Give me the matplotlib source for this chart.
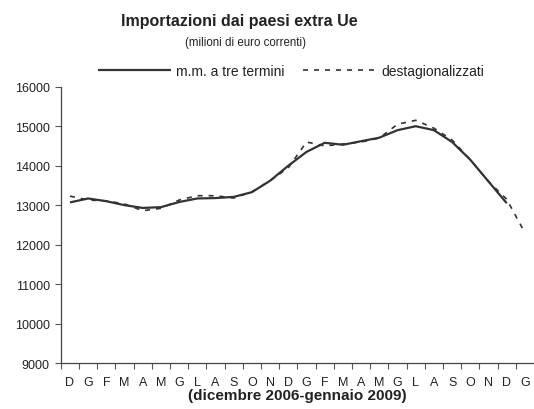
import matplotlib
matplotlib.use("Agg")
import matplotlib.pyplot as plt
import numpy as np

months = ["D", "G", "F", "M", "A", "M", "G", "L", "A", "S", "O", "N",
          "D", "G", "F", "M", "A", "M", "G", "L", "A", "S", "O", "N",
          "D", "G"]

# media mobile a tre termini (ends at Dec 2008)
mm3 = [13070, 13170, 13100, 13000, 12930, 12950, 13080, 13170, 13180, 13210,
       13330, 13620, 14000, 14350, 14580, 14530, 14620, 14710, 14900, 15000,
       14900, 14600, 14150, 13600, 13050]

# destagionalizzati
dest = [13230, 13130, 13110, 13030, 12860, 12920, 13130, 13240, 13240, 13180,
        13340, 13620, 13950, 14600, 14500, 14550, 14600, 14700, 15050, 15150,
        14950, 14650, 14150, 13600, 13150, 12300]

yticks = [9000, 10000, 11000, 12000, 13000, 14000, 15000, 16000]

plt.rcParams['font.family'] = ['Liberation Sans', 'DejaVu Sans']

fig = plt.figure(figsize=(5.34, 4.10), dpi=100)
ax = fig.add_axes([0.114, 0.112, 0.886, 0.674])

col = '#333333'
ax.plot(np.arange(len(mm3)), mm3, color=col, lw=1.6, solid_capstyle='butt',
        label='m.m. a tre termini')
ax.plot(np.arange(len(dest)), dest, color=col, lw=1.2, dashes=(3, 3.6),
        label='destagionalizzati')

ax.set_xlim(-0.5, len(months) - 0.5)
ax.set_ylim(9000, 16000)
ax.set_yticks(yticks)
ax.set_yticklabels([str(v) for v in yticks], fontsize=9, color='#222222')

ax.set_xticks(np.arange(len(months)))
ax.set_xticklabels(months, fontsize=9, color='#222222')
ax.tick_params(axis='x', which='major', length=0, pad=9)
ax.set_xticks(np.arange(len(months)) - 0.5, minor=True)
ax.tick_params(axis='x', which='minor', length=4, width=0.8, color='#555555', direction='out')
ax.tick_params(axis='y', length=4, width=0.8, color='#555555', direction='out', pad=4)

for s in ['top', 'right']:
    ax.spines[s].set_visible(False)
for s in ['left', 'bottom']:
    ax.spines[s].set_color('#444444')
    ax.spines[s].set_linewidth(0.9)

ax.set_xlabel('(dicembre 2006-gennaio 2009)', fontsize=11, fontweight='bold',
              color='#222222', labelpad=0)

fig.text(0.449, 0.948, 'Importazioni dai paesi extra Ue', ha='center', va='center',
         fontsize=11.5, fontweight='bold', color='#222222')
fig.text(0.46, 0.895, '(milioni di euro correnti)', ha='center', va='center',
         fontsize=8.3, color='#222222')

leg = fig.legend(loc='center', bbox_to_anchor=(0.545, 0.824), ncol=2, frameon=False,
                 fontsize=10, handlelength=5.25, handletextpad=0.35, columnspacing=1.35,
                 labelcolor='#222222')

fig.savefig('out.png', dpi=100)
